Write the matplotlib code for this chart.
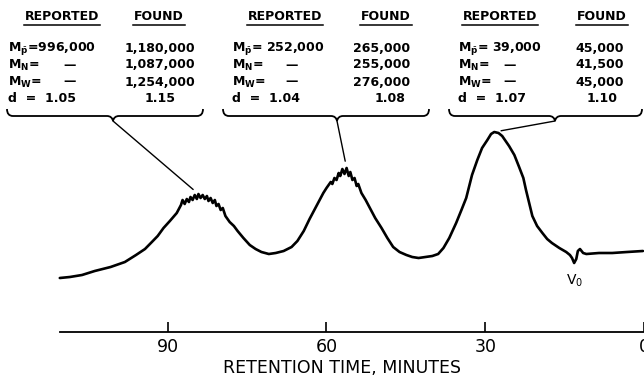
import numpy as np
import matplotlib
matplotlib.use("Agg")
import matplotlib.pyplot as plt
import matplotlib.transforms as mtransforms
from matplotlib.path import Path
from matplotlib.patches import PathPatch

plt.rcParams['font.family'] = ['DejaVu Sans']
plt.rcParams['mathtext.fontset'] = 'dejavusans'

# GPC trace of a three-standard polystyrene mixture
# retention time (min) vs recorder deflection (chart units)
retention_min = [
    110.4, 108.5, 106.2, 103.8, 100.8, 98.1, 96.0, 94.3, 93.0, 91.9,
    90.8, 89.6, 88.3, 87.5, 87.2, 86.8, 86.4, 86.0, 85.7, 85.3,
    84.9, 84.5, 84.2, 83.8, 83.4, 83.0, 82.6, 82.3, 81.9, 81.5,
    81.1, 80.8, 80.4, 80.0, 79.6, 79.1, 78.3, 77.5, 76.8, 75.7,
    74.5, 73.4, 72.3, 70.9, 69.6, 68.1, 66.6, 65.5, 64.3, 63.2,
    62.1, 61.3, 60.6, 60.0, 59.6, 59.2, 58.9, 58.5, 58.1, 57.7,
    57.4, 57.0, 56.6, 56.2, 55.8, 55.5, 55.1, 54.7, 54.3, 54.0,
    53.4, 52.6, 51.9, 50.8, 49.6, 48.5, 47.4, 46.2, 44.9, 43.8,
    42.6, 41.3, 40.0, 38.9, 37.9, 36.8, 35.5, 34.5, 33.6, 32.5,
    31.5, 30.6, 29.6, 28.9, 28.3, 27.5, 26.8, 25.5, 24.5, 23.6,
    22.8, 22.3, 21.7, 21.1, 20.2, 19.2, 18.3, 17.4, 16.0, 14.7,
    14.0, 13.6, 13.2, 12.8, 12.5, 12.1, 11.5, 10.9, 8.5, 6.0,
    3.2, 0.2,
]
response = [
    54, 55, 57, 61, 65, 70, 77, 83, 90, 96,
    104, 111, 119, 127, 132, 128, 133, 130, 135, 132,
    137, 133, 138, 134, 137, 133, 136, 131, 134, 129,
    132, 126, 128, 122, 124, 116, 110, 106, 101, 94,
    87, 83, 80, 78, 79, 81, 85, 91, 101, 113,
    124, 132, 139, 144, 147, 150, 148, 154, 152, 159,
    156, 163, 158, 164, 156, 160, 152, 154, 146, 148,
    139, 132, 125, 114, 104, 94, 85, 80, 77, 75,
    74, 75, 76, 78, 84, 94, 109, 122, 134, 157,
    172, 184, 192, 198, 200, 199, 196, 186, 177, 165,
    154, 142, 129, 116, 106, 99, 93, 89, 84, 80,
    77, 74, 69, 73, 81, 83, 79, 78, 79, 79,
    80, 81,
]

time_ticks = [90, 60, 30, 0]
x_label = "RETENTION TIME, MINUTES"
void_label = r"V$_0$"

# molecular-weight tables, one per standard (highest MW elutes first)
reported_mp = ["=996,000", "= 252,000", "= 39,000"]
reported_d = ["1.05", "1.04", "1.07"]
found_mp = ["1,180,000", "265,000", "45,000"]
found_mn = ["1,087,000", "255,000", "41,500"]
found_mw = ["1,254,000", "276,000", "45,000"]
found_d = ["1.15", "1.08", "1.10"]
peak_windows = [(75, 95), (50, 65), (20, 35)]

W, H = 644, 376
fig = plt.figure(figsize=(W / 100, H / 100), dpi=100)
ax = fig.add_axes([0, 0, 1, 1])
ax.set_xlim(121.7, 0.19)
ax.set_ylim(-44, 332)

# pixel-style layout frame: origin top-left, y downward
page = mtransforms.Affine2D().scale(1 / W, -1 / H).translate(0, 1) + ax.transAxes

for side in ("left", "top", "right"):
    ax.spines[side].set_visible(False)
ax.spines["bottom"].set_position(("data", 0))
ax.spines["bottom"].set_bounds(110.4, 0)
ax.spines["bottom"].set_linewidth(1.3)
ax.set_xticks(time_ticks)
ax.set_xticklabels([str(v) for v in time_ticks])
ax.set_yticks([])
ax.tick_params(axis="x", direction="in", length=7.5, width=1.2, pad=4,
               labelsize=12.5)
ax.text(342, 368, x_label, transform=page, ha="center", va="center",
        fontsize=12.5)

t = np.asarray(retention_min)
r = np.asarray(response)
ax.plot(t, r, color="black", lw=1.9, solid_joinstyle="round",
        solid_capstyle="round")

# void-volume marker
m = (t > 11) & (t < 15)
i_dip = np.argmin(np.where(m, r, np.inf))
ax.annotate(void_label, xy=(t[i_dip], r[i_dip]), xytext=(0, -13),
            textcoords="offset points", ha="center", va="center",
            fontsize=10)

# table layout per box (page pixels)
boxes = [
    dict(left=8, rep_c=62, found_c=159, found_r=195, d_c=160, dash_c=70,
         span=(7, 203), cusp=113),
    dict(left=232, rep_c=285, found_c=386, found_r=410, d_c=390, dash_c=292,
         span=(223, 429), cusp=337),
    dict(left=458, rep_c=500, found_c=602, found_r=624, d_c=602, dash_c=510,
         span=(449, 642), cusp=555),
]
row_y = [49, 65, 82, 99]
head_y = 17
fs = 9
bold = dict(fontsize=fs, fontweight="bold", transform=page, va="center")

fig.canvas.draw()
renderer = fig.canvas.get_renderer()
inv = page.inverted()

for i, b in enumerate(boxes):
    heads = [ax.text(b["rep_c"], head_y, "REPORTED", ha="center", **bold),
             ax.text(b["found_c"], head_y, "FOUND", ha="center", **bold)]
    for h in heads:
        bb = h.get_window_extent(renderer)
        (x0, _), (x1, _) = inv.transform([(bb.x0, bb.y0), (bb.x1, bb.y0)])
        ax.plot([x0 - 1, x1 + 1], [head_y + 8, head_y + 8], color="black",
                lw=1.1, transform=page)

    ax.text(b["left"], row_y[0], r"$\mathbf{M}_{\bar{\mathbf{p}}}$" + reported_mp[i],
            ha="left", **bold)
    ax.text(b["left"], row_y[1], r"$\mathbf{M_N}$=", ha="left", **bold)
    ax.text(b["left"], row_y[2], r"$\mathbf{M_W}$=", ha="left", **bold)
    ax.text(b["dash_c"], row_y[1], "—", ha="center", **bold)
    ax.text(b["dash_c"], row_y[2], "—", ha="center", **bold)
    ax.text(b["left"], row_y[3], "d  =  " + reported_d[i], ha="left", **bold)

    for y, val in zip(row_y[:3], (found_mp[i], found_mn[i], found_mw[i])):
        ax.text(b["found_r"], y, val, ha="right", **bold)
    ax.text(b["d_c"], row_y[3], found_d[i], ha="center", **bold)

    # brace under the table
    x0, x1 = b["span"]
    c = b["cusp"]
    yt, yh, yc, rr = 109, 116, 121, 6
    verts = [(x0, yt), (x0, yh), (x0 + rr, yh),
             (c - rr, yh), (c - 1, yh), (c, yc),
             (c + 1, yh), (c + rr, yh),
             (x1 - rr, yh), (x1, yh), (x1, yt)]
    codes = [Path.MOVETO, Path.CURVE3, Path.CURVE3,
             Path.LINETO, Path.CURVE3, Path.CURVE3,
             Path.CURVE3, Path.CURVE3,
             Path.LINETO, Path.CURVE3, Path.CURVE3]
    ax.add_patch(PathPatch(Path(verts, codes), transform=page, fill=False,
                           lw=1.3, edgecolor="black"))

    # leader from the brace to its peak
    lo, hi = peak_windows[i]
    sel = (t >= lo) & (t <= hi)
    k = np.argmax(np.where(sel, r, -np.inf))
    ax.annotate("", xy=(t[k], r[k]), xycoords="data",
                xytext=(c, yc), textcoords=page,
                arrowprops=dict(arrowstyle="-", lw=1.0, color="black",
                                shrinkA=0, shrinkB=5))

fig.savefig("out.png", dpi=100, facecolor="white")
